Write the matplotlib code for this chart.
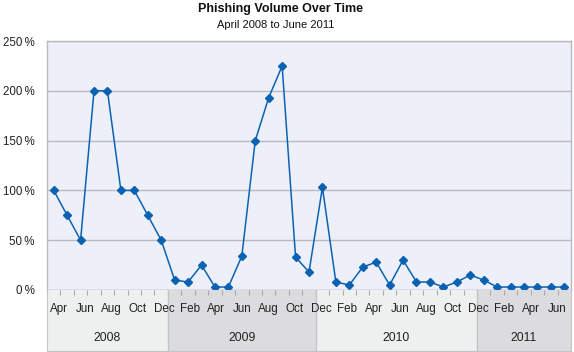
import numpy as np
import matplotlib.pyplot as plt

plt.rcParams['font.family'] = ['Liberation Sans', 'DejaVu Sans']

# monthly phishing volume, Apr 2008 .. Jun 2011 (percent)
volume = [100, 75, 50, 200, 200, 100, 100, 75, 50,
          10, 8, 25, 3, 3, 34, 150, 193, 225, 33, 18, 103,
          8, 5, 23, 28, 5, 30, 8, 8, 3, 8, 15, 10,
          3, 3, 3, 3, 3, 3]
month_labels = ['Apr', 'Jun', 'Aug', 'Oct', 'Dec',
                'Feb', 'Apr', 'Jun', 'Aug', 'Oct', 'Dec',
                'Feb', 'Apr', 'Jun', 'Aug', 'Oct', 'Dec',
                'Feb', 'Apr', 'Jun']
years = ['2008', '2009', '2010', '2011']
# year band edges in month slots (as drawn in the original)
year_edges = [0, 9, 20, 32, 39]
y_ticks = [0, 50, 100, 150, 200, 250]

W, H = 574, 352
fig = plt.figure(figsize=(W / 100, H / 100), dpi=100)

grid_c = '#b9b9bf'
line_c = '#0c62b2'

# main plot area
ax = fig.add_axes([47 / W, (H - 290) / H, 524 / W, 249 / H])
ax.set_facecolor('#edf0f9')
x = np.arange(len(volume)) + 0.5
ax.plot(x, volume, color=line_c, lw=1.1, marker='D', ms=4.5,
        markeredgecolor=line_c, markerfacecolor=line_c, zorder=3)
ax.set_xlim(0, len(volume))
ax.set_ylim(0, 250)
ax.set_yticks(y_ticks)
ax.set_yticklabels([f'{v}\u2009%' for v in y_ticks], fontsize=8.3, color='#222222')
ax.set_xticks([])
ax.tick_params(axis='y', length=0, pad=9)
ax.grid(axis='y', color=grid_c, lw=1)
ax.set_axisbelow(True)
for s in ax.spines.values():
    s.set_color(grid_c)
    s.set_linewidth(1)

# year bands below the plot
ax2 = fig.add_axes([47 / W, 1 / H, 524 / W, 61 / H])
ax2.set_xlim(0, len(volume))
ax2.set_ylim(0, 1)
band_cols = ['#eeefef', '#dcdcde', '#eeefef', '#dcdcde']
for i, yr in enumerate(years):
    a, b = year_edges[i], year_edges[i + 1]
    ax2.axvspan(a, b, color=band_cols[i], lw=0)
    ax2.text((a + b) / 2, 0.21, yr, ha='center', va='center', fontsize=8.8, color='#222222')
for e in year_edges[1:-1]:
    ax2.axvline(e, color='#c4c4c8', lw=1)
# month labels sit slightly tighter than two slots apart in the original
for i, lab in enumerate(month_labels):
    ax2.text(0.9 + 1.95 * i, 0.69, lab, ha='center', va='center', fontsize=8.4, color='#222222')
ax2.set_xticks(np.arange(1, len(volume)))
ax2.set_xticklabels([])
ax2.set_yticks([])
ax2.tick_params(axis='x', top=True, bottom=False, direction='in', length=3.5,
                color='#a8a8ae', width=0.8)
for s in ax2.spines.values():
    s.set_color('#c4c4c8')
ax2.spines['top'].set_visible(False)

fig.text(281 / W, 1 - 9 / H, 'Phishing Volume Over Time', ha='center', va='center',
         fontsize=9, fontweight='bold', color='#111111')
fig.text(276 / W, 1 - 25 / H, 'April 2008 to June 2011', ha='center', va='center',
         fontsize=8, color='#111111')

fig.savefig('out.png', dpi=100)
